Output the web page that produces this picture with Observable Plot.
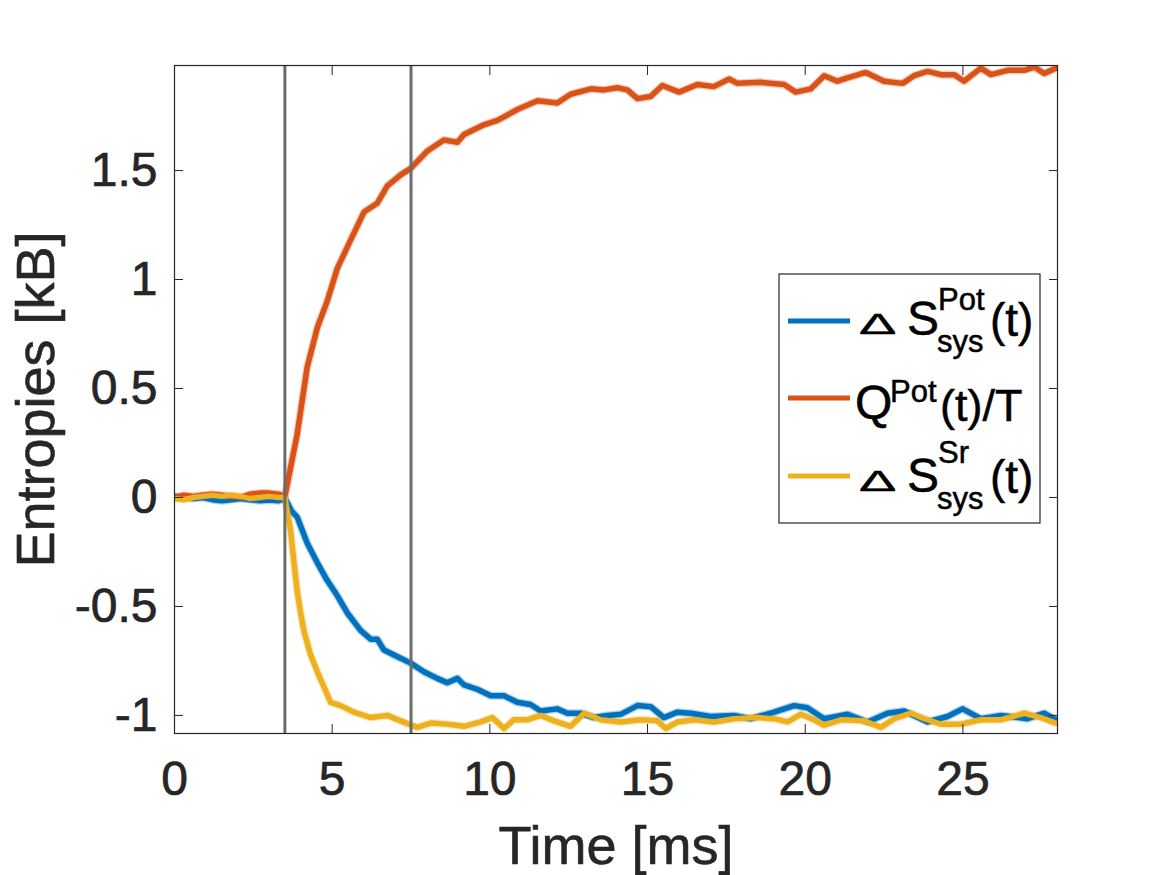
<!DOCTYPE html>
<html>
<head>
<meta charset="utf-8">
<script src="https://cdn.jsdelivr.net/npm/d3@7"></script>
<script src="https://cdn.jsdelivr.net/npm/@observablehq/plot@0.6"></script>
<style>
  html, body { margin: 0; padding: 0; background: #fff; }
  #chart { position: relative; width: 1167px; height: 875px; }
</style>
</head>
<body>
<div id="chart"></div>
<script>
// ---- data ----
const seriesNames = ["ΔS_sys^Pot(t)", "Q^Pot(t)/T", "ΔS_sys^Sr(t)"];
const seriesColors = ["#0072BD", "#D95319", "#EDB120"];

const blueT = [0,0.3,0.6,0.9,1.2,1.5,1.8,2.1,2.4,2.7,3.0,3.3,3.5,3.6,3.7,3.89,4.21,4.53,4.84,5.16,5.48,5.9,6.22,6.43,6.64,7.06,7.49,7.91,8.33,8.65,8.97,9.18,9.6,10.03,10.45,10.87,11.29,11.61,12.14,12.46,12.88,13.3,13.73,14.15,14.68,15.1,15.52,15.95,16.37,17.0,17.74,18.27,19.01,19.65,20.07,20.6,21.34,21.98,22.61,23.14,23.88,24.51,24.99,25.57,26.21,27.05,27.58,27.95,28];
const blueV = [0.005,0.0,-0.005,0.0,-0.01,-0.015,-0.01,-0.005,-0.01,-0.015,-0.012,-0.015,-0.005,-0.03,-0.06,-0.09,-0.21,-0.30,-0.38,-0.45,-0.53,-0.61,-0.65,-0.65,-0.70,-0.73,-0.76,-0.80,-0.83,-0.85,-0.83,-0.86,-0.88,-0.91,-0.91,-0.94,-0.95,-0.98,-0.97,-0.99,-0.99,-1.01,-1.00,-0.995,-0.955,-0.96,-1.01,-0.985,-0.99,-1.005,-1.0,-1.015,-0.985,-0.955,-0.965,-1.015,-0.995,-1.03,-0.99,-0.98,-1.03,-1.005,-0.97,-1.015,-1.0,-1.015,-0.99,-1.02,-1.02];

const orangeT = [0,0.3,0.6,0.9,1.2,1.5,1.8,2.1,2.4,2.7,3.0,3.3,3.5,3.89,4.21,4.53,4.84,5.16,5.58,6.01,6.43,6.75,7.17,7.49,8.02,8.54,8.97,9.18,9.81,10.24,10.87,11.51,12.14,12.56,13.2,13.62,14.04,14.36,14.68,15.1,15.47,16.0,16.58,17.1,17.59,17.85,18.59,19.33,19.7,20.18,20.6,21.02,21.34,21.92,22.5,23.09,23.45,23.88,24.3,24.72,25.04,25.57,25.89,26.42,26.95,27.26,27.58,27.95,28];
const orangeV = [0.0,0.01,0.005,0.01,0.015,0.01,0.005,0.0,0.015,0.02,0.02,0.015,0.005,0.29,0.60,0.78,0.90,1.05,1.18,1.31,1.35,1.43,1.48,1.51,1.59,1.64,1.63,1.665,1.71,1.73,1.78,1.82,1.81,1.85,1.875,1.87,1.88,1.87,1.83,1.84,1.89,1.86,1.895,1.885,1.92,1.90,1.905,1.895,1.86,1.875,1.935,1.91,1.925,1.95,1.91,1.90,1.935,1.955,1.94,1.94,1.91,1.97,1.94,1.96,1.96,1.975,1.945,1.97,1.97];

const yellowT = [0,0.3,0.6,0.9,1.2,1.5,1.8,2.1,2.4,2.7,3.0,3.3,3.5,3.68,3.79,3.89,4.0,4.1,4.31,4.53,4.74,4.95,5.27,5.69,6.22,6.75,7.17,7.7,8.12,8.65,9.18,9.71,10.08,10.45,10.76,11.19,11.61,12.03,12.56,12.99,13.52,14.15,14.78,15.31,15.58,15.95,16.48,17.11,17.74,18.49,19.01,19.44,19.86,20.28,20.6,21.13,21.87,22.4,22.82,23.35,23.77,24.3,24.94,25.57,26.21,26.95,27.47,27.95,28];
const yellowV = [-0.005,-0.01,0.0,0.005,0.01,0.005,0.01,0.005,-0.005,0.0,0.005,0.0,0.0,-0.15,-0.30,-0.43,-0.53,-0.61,-0.72,-0.80,-0.87,-0.94,-0.955,-0.985,-1.01,-1.0,-1.025,-1.055,-1.035,-1.04,-1.05,-1.03,-1.01,-1.06,-1.02,-1.02,-1.0,-1.025,-1.05,-0.99,-1.02,-1.03,-1.02,-1.025,-1.06,-1.03,-1.02,-1.03,-1.015,-1.01,-1.015,-1.03,-0.995,-1.02,-1.045,-1.02,-1.025,-1.055,-1.015,-0.99,-1.015,-1.04,-1.04,-1.02,-1.02,-0.99,-1.01,-1.035,-1.035];

const markerTimes = [3.5, 7.5];
const xTicks = [0, 5, 10, 15, 20, 25];
const yTicks = [-1, -0.5, 0, 0.5, 1, 1.5];
const xDomain = [0, 28];
const yDomain = [-1.083, 1.982];
const xLabel = "Time [ms]";
const yLabel = "Entropies [kB]";

// ---- build table ----
const toRows = (T, V, s) => T.map((t, i) => ({t, v: V[i], s}));
const allRows = [
  ...toRows(blueT, blueV, seriesNames[0]),
  ...toRows(orangeT, orangeV, seriesNames[1]),
  ...toRows(yellowT, yellowV, seriesNames[2])
];

const ink = "#262626";
const font = "'Liberation Sans', Arial, Helvetica, sans-serif";
const bold = {textStroke: ink, textStrokeWidth: 0.7};

const svg = Plot.plot({
  width: 1167,
  height: 875,
  marginTop: 65,
  marginRight: 110,
  marginBottom: 142,
  marginLeft: 174,
  style: {fontFamily: font, color: ink, background: "#fff", overflow: "visible"},
  x: {domain: xDomain},
  y: {domain: yDomain},
  color: {domain: seriesNames, range: seriesColors},
  marks: [
    // soft halo to mimic the noisy fuzz of the measured traces
    Plot.lineY(allRows, {x: "t", y: "v", z: "s", stroke: "s", strokeWidth: 8, strokeOpacity: 0.3, clip: true}),
    Plot.lineY(allRows, {x: "t", y: "v", z: "s", stroke: "s", strokeWidth: 5.5, clip: true}),
    Plot.ruleX(markerTimes, {stroke: "#6b6b6b", strokeWidth: 3}),
    // tick labels
    Plot.axisX({anchor: "bottom", ticks: xTicks, tickSize: 0, tickPadding: 27, fontSize: 48, label: null, fill: ink, ...bold}),
    Plot.axisY({anchor: "left", ticks: yTicks, tickSize: 0, tickPadding: 17, fontSize: 48, label: null, fill: ink, ...bold, tickFormat: d => String(d)}),
    // inward ticks on all four sides
    Plot.axisX({anchor: "bottom", ticks: xTicks, tickSize: -9, fill: "none", stroke: ink}),
    Plot.axisX({anchor: "top", ticks: xTicks, tickSize: -9, fill: "none", stroke: ink}),
    Plot.axisY({anchor: "left", ticks: yTicks, tickSize: -9, fill: "none", stroke: ink}),
    Plot.axisY({anchor: "right", ticks: yTicks, tickSize: -9, fill: "none", stroke: ink}),
    Plot.frame({stroke: ink, strokeWidth: 1.2}),
    // axis titles
    Plot.text([xLabel], {frameAnchor: "bottom", dy: 130, lineAnchor: "bottom", textAnchor: "middle", fontSize: 54, fill: ink, stroke: ink, strokeWidth: 0.6}),
    Plot.text([yLabel], {frameAnchor: "left", dx: -121, rotate: -90, lineAnchor: "bottom", textAnchor: "middle", fontSize: 54, fill: ink, stroke: ink, strokeWidth: 0.6})
  ]
});
document.getElementById("chart").appendChild(svg);

// ---- legend (MATLAB-style box) ----
const g = d3.select(svg).append("g")
  .attr("font-family", font).attr("fill", "#000").attr("text-anchor", "start")
  .attr("stroke", "#000").attr("stroke-width", 0.5);
g.append("rect").attr("x", 779).attr("y", 274).attr("width", 261).attr("height", 249)
  .attr("fill", "#fff").attr("stroke", ink).attr("stroke-width", 1.2);
const rowsY = [321, 398, 476];
rowsY.forEach((y, i) => {
  g.append("line").attr("x1", 788).attr("x2", 850).attr("y1", y).attr("y2", y)
    .attr("stroke", seriesColors[i]).attr("stroke-width", 5);
});
function txt(x, y, s, size, sx = 1, sy = 1) {
  g.append("text")
    .attr("transform", `translate(${x},${y}) scale(${sx},${sy})`)
    .attr("font-size", size).text(s);
}
// row 1: Δ S_sys^Pot(t)
txt(859, 334, "Δ", 40, 1.4, 0.74);
txt(907, 335, "S", 48);
txt(938, 310, "Pot", 31);
txt(937, 352, "sys", 31);
txt(990, 336, "(t)", 46);
// row 2: Q^Pot(t)/T
txt(855, 419, "Q", 48);
txt(890, 402, "Pot", 31);
txt(940, 421, "(t)/T", 45);
// row 3: Δ S_sys^Sr(t)
txt(859, 491, "Δ", 40, 1.4, 0.74);
txt(907, 492, "S", 48);
txt(938, 463, "Sr", 31);
txt(937, 509, "sys", 31);
txt(990, 493, "(t)", 46);
</script>
</body>
</html>
